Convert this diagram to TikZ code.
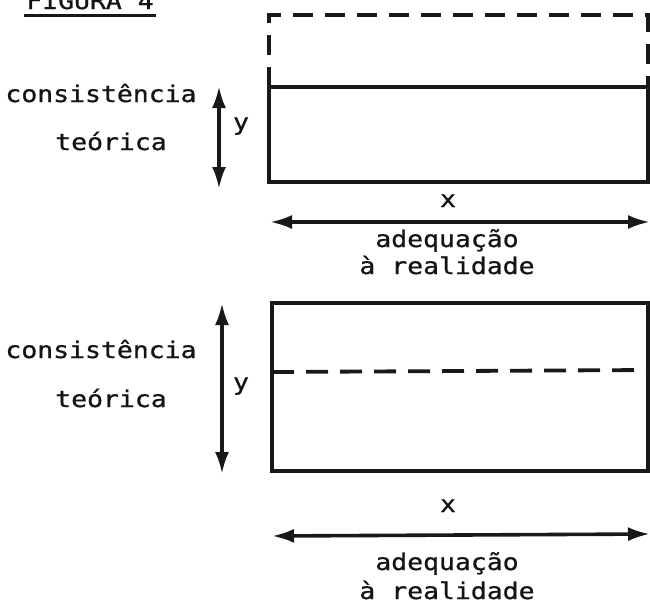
\documentclass[tikz,border=0pt]{standalone}
\usepackage{fontspec}
\setmonofont[FakeStretch=1.15,FakeBold=0.8]{DejaVu Sans Mono}
\usetikzlibrary{arrows.meta}
\begin{document}
\begin{tikzpicture}[x=1pt,y=-1pt,
  lbl/.style={font=\ttfamily\fontsize{23}{27}\selectfont, text=black!92, inner sep=0pt, anchor=base},
  frame/.style={draw=black!90, line width=3.4pt},
  dashframe/.style={draw=black!90, line width=3.8pt, dash pattern=on 20pt off 12pt},
  dblarrow/.style={draw=black!90, line width=3.6pt, {Latex[length=22pt,width=14pt]}-{Latex[length=22pt,width=14pt]}}]
  \useasboundingbox (0,0) rectangle (650,606);
  \clip (0,0) rectangle (650,606);
  \fill[white] (0,0) rectangle (650,606);

  % heading, partly cut by the page edge
  \node[lbl] (fig) at (90,9) {FIGURA 4};
  \draw[black!90, line width=3pt] (24,15) -- (156,15);

  % upper figure
  \draw[frame] (269,87) rectangle (648,182);
  \draw[dashframe] (269,87) -- (269,15) -- (648,15) -- (648,87);
  \node[lbl] (c1) at (101,102) {consistência};
  \node[lbl] (t1) at (111,150) {teórica};
  \coordinate (ya1) at (219,86);
  \coordinate (yb1) at (219,189);
  \draw[dblarrow] (ya1) -- (yb1);
  \node[lbl] (y1) at (241,130) {y};
  \node[lbl] (x1) at (448,207) {x};
  \coordinate (xa1) at (270,222);
  \coordinate (xb1) at (650,222);
  \draw[dblarrow] (xa1) -- (xb1);
  \node[lbl] (a1) at (447,247) {adequação};
  \node[lbl] (r1) at (447,274) {à realidade};

  % lower figure
  \draw[frame] (272,303) rectangle (648,471);
  \draw[dashframe, dash pattern=on 22pt off 12pt] (272,372) -- (648,370);
  \node[lbl] (c2) at (101,358) {consistência};
  \node[lbl] (t2) at (111,407) {teórica};
  \coordinate (ya2) at (222,303);
  \coordinate (yb2) at (222,474);
  \draw[dblarrow] (ya2) -- (yb2);
  \node[lbl] (y2) at (241,390) {y};
  \node[lbl] (x2) at (448,512) {x};
  \coordinate (xa2) at (272,536);
  \coordinate (xb2) at (650,534);
  \draw[dblarrow] (xa2) -- (xb2);
  \node[lbl] (a2) at (447,570) {adequação};
  \node[lbl] (r2) at (447,599) {à realidade};
\end{tikzpicture}
\end{document}
